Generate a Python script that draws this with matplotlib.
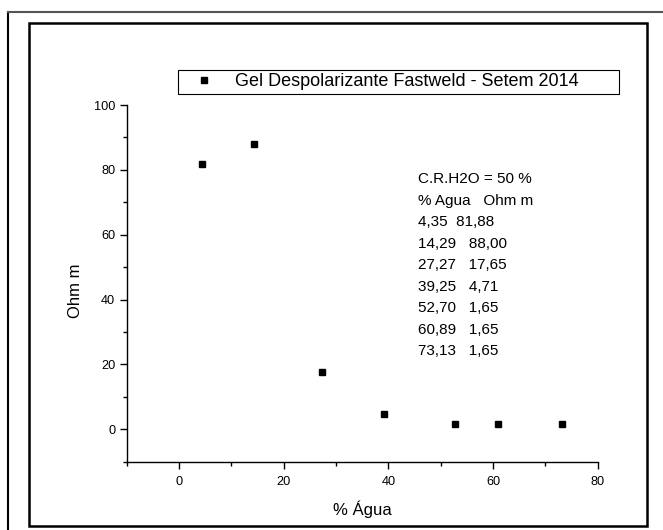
import matplotlib
matplotlib.use("Agg")
import matplotlib.pyplot as plt
from matplotlib.lines import Line2D
from matplotlib.patches import Rectangle
from matplotlib.ticker import MultipleLocator

plt.rcParams['font.family'] = ['Liberation Sans', 'DejaVu Sans']

# data
agua = [4.35, 14.29, 27.27, 39.25, 52.70, 60.89, 73.13]
ohm = [81.88, 88.00, 17.65, 4.71, 1.65, 1.65, 1.65]
serie = 'Gel Despolarizante Fastweld - Setem 2014'
tabela = ['C.R.H2O = 50 %', '% Agua   Ohm m', '4,35  81,88', '14,29   88,00',
          '27,27   17,65', '39,25   4,71', '52,70   1,65', '60,89   1,65',
          '73,13   1,65']

W, H = 663, 530
fig = plt.figure(figsize=(W / 100, H / 100), dpi=100)
ax = fig.add_axes([126.7 / W, 68.3 / H, 471 / W, 356.7 / H])

ax.plot(agua, ohm, 's', color='black', ms=4.5, label=serie)

ax.set_xlim(-10, 80)
ax.set_ylim(-10, 100)
ax.xaxis.set_minor_locator(MultipleLocator(10))
ax.yaxis.set_minor_locator(MultipleLocator(10))
ax.set_xticks([0, 20, 40, 60, 80])
ax.set_yticks([0, 20, 40, 60, 80, 100])
for s in ['top', 'right']:
    ax.spines[s].set_visible(False)
for s in ['left', 'bottom']:
    ax.spines[s].set_linewidth(1.0)
ax.tick_params(which='major', direction='out', length=4.7, width=1.0,
               labelsize=9.2)
ax.tick_params(axis='x', which='major', pad=5.5)
ax.tick_params(axis='y', which='major', pad=3.5)
ax.tick_params(which='minor', direction='out', length=3, width=1.0)

ax.set_xlabel('% Água', fontsize=12)
ax.set_ylabel('Ohm m', fontsize=12)
ax.xaxis.set_label_coords(0.5, -0.108)
ax.yaxis.set_label_coords(-0.092, 0.48)

# table of values written on the chart
for i, linha in enumerate(tabela):
    ax.text(0.6185, 0.781 - i * 0.0603, linha, transform=ax.transAxes,
            fontsize=11, va='baseline', ha='left')

leg = ax.legend(loc='lower left', mode='expand',
                bbox_to_anchor=(178 / W, (H - 94) / H, 441 / W, 27 / H),
                bbox_transform=fig.transFigure, fontsize=13, borderpad=0.2,
                handlelength=2.5, handletextpad=0.45, borderaxespad=0,
                fancybox=False, framealpha=1, edgecolor='black')
leg.get_frame().set_linewidth(0.8)

# page frames
fig.add_artist(Line2D([8 / W, 8 / W], [0, 1 - 11.5 / H], color='black',
                      lw=1.5, transform=fig.transFigure))
fig.add_artist(Line2D([8 / W, 1], [1 - 11.5 / H, 1 - 11.5 / H], color='#555555',
                      lw=1.5, transform=fig.transFigure))
fig.add_artist(Rectangle((29 / W, 1 - 525.5 / H), 617.5 / W, 502.5 / H,
                         fill=False, edgecolor='black', lw=1.8,
                         transform=fig.transFigure))

fig.savefig('out.png', dpi=100)
